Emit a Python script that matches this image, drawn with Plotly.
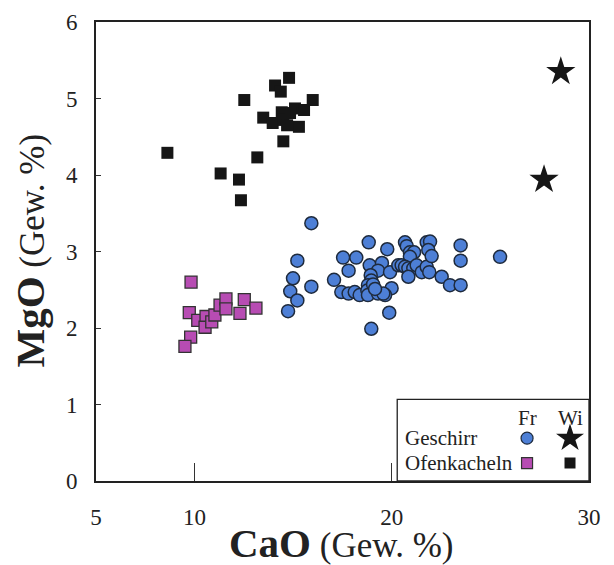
import plotly.graph_objects as go

# ---- data (CaO, MgO in Gew. %) ----
geschirr_fr_cao = [15.92, 18.83, 15.21, 17.53, 18.20, 17.81, 14.99, 15.92, 17.07, 14.85,
                   15.21, 14.74, 17.44, 17.81, 18.12, 18.37, 18.88, 19.50, 19.30, 18.93,
                   18.96, 18.79, 18.76, 18.79, 19.30, 18.96, 19.77, 19.91, 19.99, 19.66,
                   19.87, 20.67, 20.76, 20.92, 21.13, 20.92, 20.33, 20.50, 20.67, 20.84,
                   21.09, 21.26, 21.52, 21.77, 21.90, 20.84, 21.77, 21.94, 21.85, 22.02,
                   22.53, 22.95, 23.49, 23.49, 23.49, 25.49, 19.57, 19.05, 19.15]
geschirr_fr_mgo = [3.37, 3.12, 2.88, 2.92, 2.92, 2.75, 2.65, 2.54, 2.63, 2.48,
                   2.36, 2.22, 2.47, 2.45, 2.47, 2.43, 2.82, 2.85, 2.75, 2.69,
                   2.62, 2.56, 2.49, 2.43, 2.45, 1.99, 3.03, 2.73, 2.52, 2.43,
                   2.20, 3.12, 3.07, 2.99, 2.99, 2.93, 2.82, 2.82, 2.80, 2.78,
                   2.78, 2.82, 2.73, 2.80, 2.73, 2.67, 3.12, 3.13, 3.02, 2.94,
                   2.67, 2.56, 2.56, 2.88, 3.08, 2.93, 2.45, 2.57, 2.51]

geschirr_wi_cao = [28.57, 27.72]
geschirr_wi_mgo = [5.35, 3.94]

ofen_fr_cao = [9.82, 9.73, 10.16, 10.58, 10.53, 10.87, 11.03, 11.29, 11.59, 11.59,
               12.52, 12.30, 13.11, 9.80, 9.51]
ofen_fr_mgo = [2.60, 2.20, 2.10, 2.15, 2.01, 2.08, 2.17, 2.30, 2.38, 2.25,
               2.37, 2.19, 2.26, 1.88, 1.76]

ofen_wi_cao = [8.62, 12.52, 14.79, 14.08, 14.37, 15.99, 13.48, 13.96, 14.42, 14.50,
               15.09, 15.55, 15.29, 14.50, 13.18, 11.32, 12.25, 12.35, 14.84, 14.69]
ofen_wi_mgo = [4.29, 4.98, 5.27, 5.17, 5.09, 4.98, 4.75, 4.68, 4.82, 4.72,
               4.87, 4.85, 4.63, 4.44, 4.23, 4.02, 3.94, 3.67, 4.81, 4.65]

x_ticks = [5, 10, 20, 30]
y_ticks = [0, 1, 2, 3, 4, 5, 6]

legend_cols = ["Fr", "Wi"]
legend_rows = ["Geschirr", "Ofenkacheln"]

BLUE = "#4d7fd6"
PURPLE = "#b74cb3"
BLACK = "#161616"
FONT = "Liberation Serif"

fig = go.Figure()

fig.add_trace(go.Scatter(x=ofen_fr_cao, y=ofen_fr_mgo, mode="markers",
                         marker=dict(symbol="square", size=12, color=PURPLE,
                                     line=dict(color="#333", width=1.3))))
fig.add_trace(go.Scatter(x=ofen_wi_cao, y=ofen_wi_mgo, mode="markers",
                         marker=dict(symbol="square", size=12, color=BLACK,
                                     line=dict(color=BLACK, width=0))))
fig.add_trace(go.Scatter(x=geschirr_fr_cao, y=geschirr_fr_mgo, mode="markers",
                         marker=dict(symbol="circle", size=13, color=BLUE,
                                     line=dict(color="#1e2a3c", width=1.5))))
fig.add_trace(go.Scatter(x=geschirr_wi_cao, y=geschirr_wi_mgo, mode="markers",
                         marker=dict(symbol="star", size=22, color=BLACK,
                                     line=dict(color=BLACK, width=0))))

# ---- legend key (own small axes inside the box) ----
col_x = [0.677, 0.901]
row_y = [0.524, 0.22]
head_y = 0.768
key_symbols = [["circle", "star"], ["square", "square"]]
key_colors = [[BLUE, BLACK], [PURPLE, BLACK]]
key_sizes = [[12, 21], [11, 11]]
key_lines = [["#1e2a3c", BLACK], ["#333", BLACK]]
for r in range(2):
    for c in range(2):
        fig.add_trace(go.Scatter(x=[col_x[c]], y=[row_y[r]], mode="markers",
                                 xaxis="x2", yaxis="y2",
                                 marker=dict(symbol=key_symbols[r][c], size=key_sizes[r][c],
                                             color=key_colors[r][c],
                                             line=dict(color=key_lines[r][c], width=1.2 if c == 0 else 0))))
annotations = []
for c, lab in enumerate(legend_cols):
    annotations.append(dict(x=col_x[c], y=head_y, xref="x2", yref="y2", text=lab,
                            showarrow=False, font=dict(family=FONT, size=21, color="#222")))
for r, lab in enumerate(legend_rows):
    annotations.append(dict(x=0.03, y=row_y[r], xref="x2", yref="y2", text=lab, xanchor="left",
                            showarrow=False, font=dict(family=FONT, size=21, color="#222")))
# axis titles
annotations.append(dict(x=0.497, y=-0.136, xref="paper", yref="paper",
                        text='<span style="font-size:41px"><b>CaO</b></span> (Gew. %)',
                        showarrow=False, xanchor="center", yanchor="middle",
                        font=dict(family=FONT, size=35, color="#222")))
annotations.append(dict(x=-0.134, y=0.502, xref="paper", yref="paper",
                        text='<span style="font-size:41px"><b>MgO</b></span> (Gew. %)',
                        showarrow=False, textangle=-90, xanchor="center", yanchor="middle",
                        font=dict(family=FONT, size=35, color="#222")))

# page body adds an 8px offset; size the figure to land in the 614x565 window
fig.update_layout(
    width=606, height=557,
    margin=dict(l=88, r=25, t=14, b=84, autoexpand=False),
    paper_bgcolor="white", plot_bgcolor="rgba(0,0,0,0)",
    showlegend=False,
    font=dict(family=FONT, color="#222"),
    annotations=annotations,
    shapes=[dict(type="rect", xref="paper", yref="paper", x0=0.611, x1=1.0, y0=0.0, y1=0.178,
                 line=dict(color="#222", width=1.3), fillcolor="white", layer="below")],
    xaxis=dict(range=[5, 30], tickvals=x_ticks, ticks="inside", ticklen=18, tickwidth=1,
               tickcolor="#333", showline=True, linecolor="#222", linewidth=2, mirror=True,
               showgrid=False, zeroline=False, tickfont=dict(family=FONT, size=23, color="#222"),
               ticklabelstandoff=14, automargin=False),
    yaxis=dict(range=[0, 6], tickvals=y_ticks, ticks="inside", ticklen=5, tickwidth=1,
               tickcolor="#333", showline=True, linecolor="#222", linewidth=2, mirror=True,
               showgrid=False, zeroline=False, tickfont=dict(family=FONT, size=23, color="#222"),
               ticklabelstandoff=12, automargin=False),
    xaxis2=dict(domain=[0.611, 1.0], range=[0, 1], anchor="y2", visible=False, fixedrange=True),
    yaxis2=dict(domain=[0.0, 0.178], range=[0, 1], anchor="x2", visible=False, fixedrange=True),
)

fig.write_html("out.html")
